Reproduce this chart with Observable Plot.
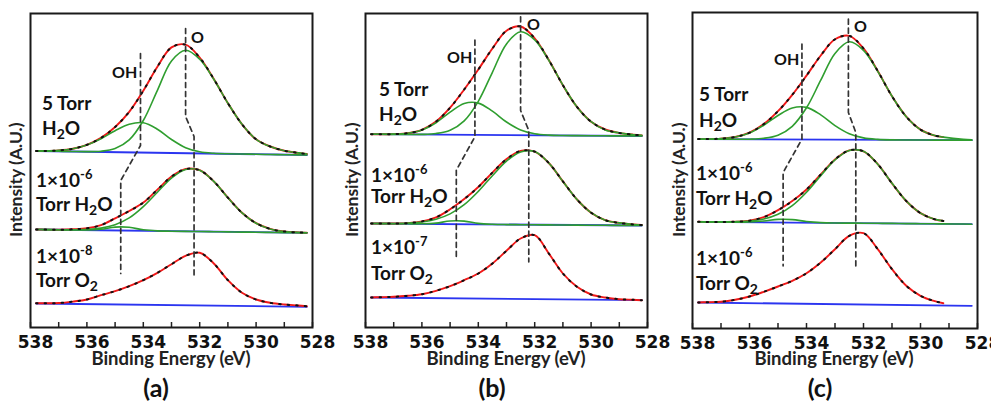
<!DOCTYPE html>
<html><head><meta charset="utf-8">
<script src="https://cdn.jsdelivr.net/npm/d3@7"></script>
<script src="https://cdn.jsdelivr.net/npm/@observablehq/plot@0.6"></script>
<style>
body{margin:0;background:#fff;}
#wrap{position:relative;width:991px;height:403px;overflow:hidden;font-family:Lato,"Open Sans",sans-serif;color:#111;}
.panel{position:absolute;top:0;}
.panel svg{overflow:visible;}
.lbl{position:absolute;font-weight:bold;font-size:19px;line-height:1;white-space:nowrap;}
.lbl sub{font-size:14px;vertical-align:-4px;line-height:0;}
.lbl sup{font-size:13px;vertical-align:8px;line-height:0;}
.peak{position:absolute;font-weight:bold;font-size:16px;line-height:1;}
.xt{position:absolute;width:240px;text-align:center;font-weight:bold;font-size:18.5px;line-height:0.75;color:#222;}
.yt{position:absolute;width:180px;text-align:center;font-weight:bold;font-size:17.5px;line-height:1;transform:rotate(-90deg);color:#222;}
.pl{position:absolute;width:60px;text-align:center;font-size:25px;font-weight:bold;line-height:1;}
</style>
</head><body><div id="wrap"></div>
<script>
// ---------- shared axes ----------
const energyAB = [537.8,537.5,537,536.5,536,535.5,535,534.5,534,533.5,533,532.5,532,531.5,531,530.5,530,529.5,529,528.5,528.2];
const energyC  = [537.8,537.5,537,536.5,536,535.5,535,534.5,534,533.5,533,532.5,532,531.5,531,530.5,530,529.5,529.2,528.5,528.2];
const baselineE = [537.8,528.2];
const tickEnergies = [538,537,536,535,534,533,532,531,530,529,528];
const tickLabels = [538,536,534,532,530,528];

// ---------- panel (a) ----------
const aTopFit = [176.6,176.6,177.1,178.8,182.7,189.6,200.5,215.7,236.8,260.8,280.1,282.8,269.9,248.5,224.3,203.2,188.2,181,176.8,174.6,173.5];
const aTopO   = [176.5,176.4,176.2,176.0,175.9,176.3,179.0,187.6,207.0,237.2,266.6,277.3,268.3,248.2,224.3,203.2,188.2,181,176.8,174.6,173.5];
const aTopOH  = [176.6,176.6,177.1,178.8,182.6,188.8,196.8,203.2,204.7,198.3,188.0,179.8,175.7,174.2,173.7,173.5,173.2,173.0,172.8,172.6,172.5];
const aTopBase = [176.5,172.5];
const aMidFit = [98.0,97.9,97.8,98.2,99.2,102.4,109.2,116.5,124.9,137.9,150.9,158.5,157.3,146.1,129.8,114.7,104.3,98.6,96.0,95.1,94.8];
const aMidO   = [98.0,97.9,97.8,97.7,98.1,99.4,102.8,109.6,120.9,135.3,149.4,158.0,157.3,146.1,129.8,114.7,104.3,98.6,96.0,95.1,94.8];
const aMidOH  = [98.0,97.9,97.7,97.5,97.5,98.2,100.4,100.2,97.7,96.6,96.3,96.1,96.0,95.8,95.6,95.4,95.3,95.1,94.9,94.8,94.7];
const aMidBase = [98.0,94.7];
const aBotFit = [24.2,24.3,24.5,25.9,28.0,32.3,36.3,41.3,47.3,54.7,63.3,71.7,74.7,64.0,47.3,34.7,28.0,24.7,23.0,22.0,21.3];
const aBotBase = [24.0,20.7];
const aGuideOE = [532.5,532.5,532.2,532.2],  aGuideOV = [299,211,191,52];
const aGuideOHE = [534.1,534.1,534.8,534.8], aGuideOHV = [274,182,147,54];

// ---------- panel (b) ----------
const bTopFit = [193.3,193.2,193.4,194.3,197.7,205.9,219.8,238.0,258.0,279.0,296.7,301.0,289.2,267.5,242.3,220.6,205.8,198.0,194.6,192.8,192.1];
const bTopO   = [193.3,193.2,193.1,193.0,193.1,194.0,197.3,206.7,226.2,255.2,283.6,295.7,287.6,267.2,242.3,220.6,205.8,197.5,194.6,192.8,192.1];
const bTopOH  = [193.3,193.2,193.4,194.3,197.5,204.8,215.3,224.0,224.4,216.3,205.5,197.6,193.8,192.4,192.0,191.9,191.8,191.7,191.6,191.6,191.5];
const bTopBase = [193.3,191.5];
const bMidFit = [104.0,104.0,104.0,104.4,106.1,110.1,118.2,128.4,140.5,154.9,168.4,176.6,175.9,164.5,146.1,128.0,114.8,107.3,104.6,103.0,102.5];
const bMidO   = [104.0,104.0,104.0,104.4,105.5,108.2,113.6,122.8,136.1,151.8,166.4,175.6,175.9,164.5,146.1,128.0,114.8,107.3,104.6,103.0,102.5];
const bMidOH  = [104.0,103.9,103.8,103.7,103.7,104.4,106.5,106.4,104.1,103.2,102.9,102.8,102.7,102.6,102.5,102.4,102.3,102.2,102.1,102.0,102.0];
const bMidBase = [104.0,102.0];
const bBotFit = [30.0,30.3,30.7,31.7,33.3,36.7,41.3,47.3,54.0,64.0,76.7,89.0,92.3,74.0,54.0,40.7,33.0,30.0,28.3,27.7,27.3];
const bBotBase = [30.0,27.3];
const bGuideOE = [532.5,532.5,532.21,532.21],   bGuideOV = [310.7,217,197,65.7];
const bGuideOHE = [534.12,534.12,534.78,534.78], bGuideOHV = [287.3,190.7,157.3,67.3];

// ---------- panel (c) ----------
const cTopFit = [189.4,189.4,189.9,191.5,195.8,204.4,217.3,233.7,252.9,273.0,289.2,292.7,280.1,257.5,232.2,211.8,198.9,192.9,191.4,null,null];
const cTopO   = [189.3,189.3,189.2,189.2,189.3,190.2,193.3,202.2,220.7,248.3,275.1,286.7,278.2,257.1,232.2,211.8,198.9,192.9,191.4,189.1,188.6];
const cTopOH  = [189.4,189.4,189.9,191.5,195.6,203.3,213.0,220.5,221.1,213.6,202.9,194.8,190.6,189.1,188.6,188.5,188.5,188.4,188.4,188.3,188.3];
const cTopBase = [189.3,188.3];
const cMidFit = [106.7,106.6,106.6,106.8,107.8,111.4,118.3,127.4,139.0,154.1,169.1,178.1,177.2,164.3,145.2,127.5,115.4,109.2,107.6,null,null];
const cMidO   = [106.7,106.6,106.6,106.8,107.5,109.5,114.2,122.9,136.3,152.9,168.6,178.1,177.2,164.3,145.2,127.5,115.4,109.2,107.6,null,null];
const cMidOH  = [106.7,106.6,106.5,106.4,106.6,107.5,109.1,108.9,107.0,105.9,105.5,105.4,105.3,105.2,105.1,104.9,104.8,104.7,104.6,104.5,104.3];
const cMidBase = [106.7,104.3];
const cBotFit = [26.0,26.3,26.7,28.7,32.0,36.7,42.0,47.7,55.3,66.0,79.3,92.7,95.3,79.3,59.3,42.7,32.7,27.3,25.3,null,null];
const cBotBase = [26.0,22.7];
const cGuideOE = [532.53,532.53,532.27,532.27],  cGuideOV = [309.3,216,196,61];
const cGuideOHE = [534.16,534.16,534.82,534.82], cGuideOHV = [284.3,189.3,156,62.7];

// ---------- text ----------
const panelLetters = ["(a)","(b)","(c)"];
const xTitle = "Binding Energy (eV)";
const yTitle = "Intensity (A.U.)";
const topLabel = ["5 Torr","H<sub>2</sub>O"];
const midLabel = ["1×10<sup>-6</sup>","Torr H<sub>2</sub>O"];
const botLabels = ["1×10<sup>-8</sup>","1×10<sup>-7</sup>","1×10<sup>-6</sup>"];
const botLabel2 = "Torr O<sub>2</sub>";

const RED = "#f01818", GREEN = "#2f9e2f", BLUE = "#2b35f0";
const rows = (E, V) => E.map((e, i) => ({e, v: V[i]}));

function panel(cfg) {
  const E = cfg.energy;
  const marks = [];
  for (const s of cfg.spectra) {
    marks.push(Plot.line(rows(baselineE, s.base), {x: "e", y: "v", stroke: BLUE, strokeWidth: 1.8}));
  }
  for (const s of cfg.spectra) {
    marks.push(Plot.line(rows(E, s.fit), {x: "e", y: "v", stroke: RED, strokeWidth: 1.9, curve: "catmull-rom"}));
  }
  for (const s of cfg.spectra) {
    for (const comp of s.comps) {
      marks.push(Plot.line(rows(E, comp), {x: "e", y: "v", stroke: GREEN, strokeWidth: 1.6, curve: "catmull-rom"}));
    }
  }
  for (const s of cfg.spectra) {
    marks.push(Plot.line(rows(E, s.fit), {x: "e", y: "v", stroke: "#111", strokeWidth: 2, strokeDasharray: "1.5,7", curve: "catmull-rom"}));
  }
  for (const g of cfg.guides) {
    marks.push(Plot.line(rows(g[0], g[1]), {x: "e", y: "v", stroke: "#333", strokeWidth: 1.7, strokeDasharray: "5,4"}));
  }
  marks.push(Plot.ruleX(tickEnergies, {y1: 0, y2: 5, stroke: "#222", strokeWidth: 1.5}));
  marks.push(Plot.frame({stroke: "#1a1a1a", strokeWidth: 2}));
  marks.push(Plot.axisX(tickLabels, {tickSize: 0, tickPadding: 8, fontSize: 17, fontWeight: "bold", fontFamily: "DejaVu Sans", fill: "#111", dx: 5, label: null}));
  return Plot.plot({
    width: cfg.width, height: 403,
    marginLeft: cfg.ml, marginRight: cfg.mr, marginTop: cfg.mt, marginBottom: cfg.mb,
    x: {domain: [538, 528]},
    y: {domain: [0, cfg.ymax], axis: null},
    style: {background: "transparent", fontFamily: "DejaVu Sans", overflow: "visible"},
    marks
  });
}

const cfgs = [
  {left: 0, width: 330, ml: 30, mr: 18, mt: 13, mb: 76, ymax: 314, energy: energyAB,
   spectra: [
     {base: aTopBase, fit: aTopFit, comps: [aTopO, aTopOH]},
     {base: aMidBase, fit: aMidFit, comps: [aMidO, aMidOH]},
     {base: aBotBase, fit: aBotFit, comps: []}],
   guides: [[aGuideOE, aGuideOV], [aGuideOHE, aGuideOHV]]},
  {left: 330, width: 330, ml: 35, mr: 13, mt: 13, mb: 76, ymax: 314, energy: energyAB,
   spectra: [
     {base: bTopBase, fit: bTopFit, comps: [bTopO, bTopOH]},
     {base: bMidBase, fit: bMidFit, comps: [bMidO, bMidOH]},
     {base: bBotBase, fit: bBotFit, comps: []}],
   guides: [[bGuideOE, bGuideOV], [bGuideOHE, bGuideOHV]]},
  {left: 660, width: 331, ml: 32, mr: 14, mt: 12, mb: 75, ymax: 316, energy: energyC,
   spectra: [
     {base: cTopBase, fit: cTopFit, comps: [cTopO, cTopOH]},
     {base: cMidBase, fit: cMidFit, comps: [cMidO, cMidOH]},
     {base: cBotBase, fit: cBotFit, comps: []}],
   guides: [[cGuideOE, cGuideOV], [cGuideOHE, cGuideOHV]]}
];

const wrap = document.getElementById("wrap");
cfgs.forEach(c => {
  const d = document.createElement("div");
  d.className = "panel";
  d.style.left = c.left + "px";
  d.appendChild(panel(c));
  wrap.appendChild(d);
});

function addDiv(cls, html, left, top) {
  const d = document.createElement("div");
  d.className = cls; d.innerHTML = html;
  d.style.left = left + "px"; d.style.top = top + "px";
  wrap.appendChild(d);
}
// spectrum labels: x positions and text baselines per panel
const labelPos = [
  {x1: 42, x2: 36, b: [110, 135, 187, 211, 263, 287]},
  {x1: 379, x2: 371, b: [96, 121, 182, 203, 254, 280]},
  {x1: 699, x2: 696, b: [101, 127, 180, 205, 265, 290]}
];
labelPos.forEach((p, i) => {
  addDiv("lbl", topLabel[0], p.x1, p.b[0] - 17);
  addDiv("lbl", topLabel[1], p.x1, p.b[1] - 17);
  addDiv("lbl", midLabel[0], p.x2, p.b[2] - 17);
  addDiv("lbl", midLabel[1], p.x2, p.b[3] - 17);
  addDiv("lbl", botLabels[i], p.x2, p.b[4] - 17);
  addDiv("lbl", botLabel2, p.x2, p.b[5] - 17);
});
// peak names
const peakPos = [[191, 29, 112, 64], [527, 16, 447, 49], [854, 18, 774, 51]];
peakPos.forEach(p => { addDiv("peak", "O", p[0], p[1]); addDiv("peak", "OH", p[2], p[3]); });
// axis titles and panel letters
[[171, 156], [506, 492], [834, 820]].forEach((c, i) => {
  addDiv("xt", xTitle, c[0] - 120, 352);
  addDiv("pl", panelLetters[i], c[1] - 30, 375);
});
[16, 352, 679].forEach(x => addDiv("yt", yTitle, x - 90, 171));
</script></body></html>
